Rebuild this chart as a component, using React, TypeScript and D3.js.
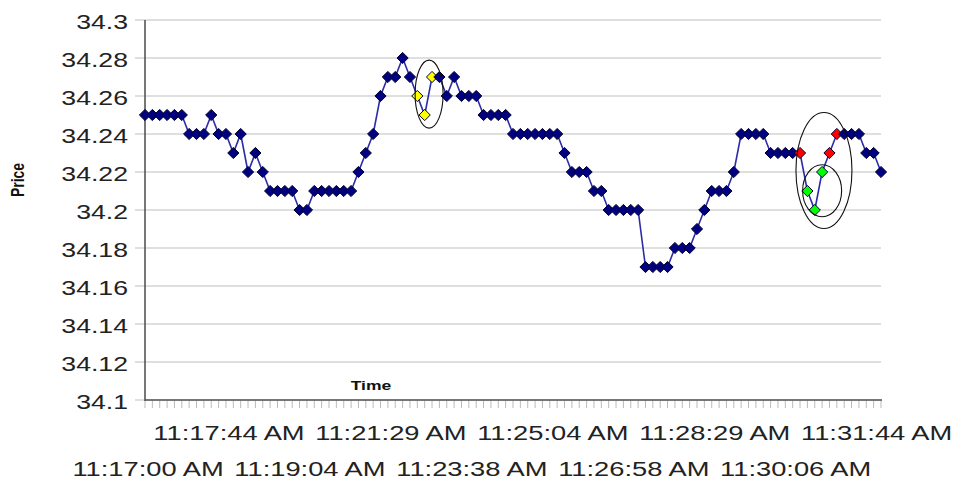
import React from 'react';
import * as d3 from 'd3';

// Price per tick (101 observations)
const prices: number[] = [
  34.25, 34.25, 34.25, 34.25, 34.25, 34.25, 34.24, 34.24, 34.24, 34.25,
  34.24, 34.24, 34.23, 34.24, 34.22, 34.23, 34.22, 34.21, 34.21, 34.21,
  34.21, 34.2, 34.2, 34.21, 34.21, 34.21, 34.21, 34.21, 34.21, 34.22,
  34.23, 34.24, 34.26, 34.27, 34.27, 34.28, 34.27, 34.26, 34.25, 34.27,
  34.27, 34.26, 34.27, 34.26, 34.26, 34.26, 34.25, 34.25, 34.25, 34.25,
  34.24, 34.24, 34.24, 34.24, 34.24, 34.24, 34.24, 34.23, 34.22, 34.22,
  34.22, 34.21, 34.21, 34.2, 34.2, 34.2, 34.2, 34.2, 34.17, 34.17,
  34.17, 34.17, 34.18, 34.18, 34.18, 34.19, 34.2, 34.21, 34.21, 34.21,
  34.22, 34.24, 34.24, 34.24, 34.24, 34.23, 34.23, 34.23, 34.23, 34.23,
  34.21, 34.2, 34.22, 34.23, 34.24, 34.24, 34.24, 34.24, 34.23, 34.23,
  34.22,
];

// Time tick labels (one every 11 observations)
const timeLabels: string[] = [
  '11:17:00 AM', '11:17:44 AM', '11:19:04 AM', '11:21:29 AM', '11:23:38 AM',
  '11:25:04 AM', '11:26:58 AM', '11:28:29 AM', '11:30:06 AM', '11:31:44 AM',
];
const labelStep = 11;

const yTickValues: number[] = [34.1, 34.12, 34.14, 34.16, 34.18, 34.2, 34.22, 34.24, 34.26, 34.28, 34.3];

// Highlighted observations
const yellowIdx: number[] = [37, 38, 39];
const redIdx: number[] = [89, 93, 94];
const greenIdx: number[] = [90, 91, 92];

// Annotation ellipses: centre in data units (index, price)
const ellipseCenters: { i: number; p: number }[] = [
  { i: 38.6, p: 34.261 },
  { i: 92.25, p: 34.2208 },
  { i: 92.0, p: 34.2101 },
];
const ellipseRadii: [number, number][] = [
  [14, 34],
  [28, 58],
  [19.5, 26],
];

const W = 954;
const H = 481;
const SX = 1.3; // horizontal stretch of text
const FONT = "'Liberation Sans', Arial, Helvetica, sans-serif";

export default function App() {
  const x = d3.scaleLinear().domain([0, prices.length - 1]).range([145, 881]);
  const y = d3.scaleLinear().domain([34.1, 34.3]).range([400, 20]);

  const line = d3
    .line<number>()
    .x((_, i) => x(i))
    .y((d) => y(d));

  const diamond = 'M0,-5.6L5.6,0L0,5.6L-5.6,0Z';
  const colorOf = (i: number) => {
    if (yellowIdx.includes(i)) return '#ffff00';
    if (redIdx.includes(i)) return '#ff0000';
    if (greenIdx.includes(i)) return '#00ff00';
    return '#000080';
  };

  const fmt = (v: number) => String(+v.toFixed(2));

  return (
    <svg
      width={W}
      height={H}
      style={{ position: 'absolute', left: 0, top: 0, background: '#fff' }}
      fontFamily={FONT}
    >
      <rect x={0} y={0} width={W} height={H} fill="#fff" />
      {/* gridlines */}
      {yTickValues.map((v) => (
        <line key={'g' + v} x1={135} x2={881} y1={y(v)} y2={y(v)} stroke="#d4d4d4" strokeWidth={1.3} />
      ))}
      {/* y tick labels */}
      {yTickValues.map((v) => (
        <text
          key={'yl' + v}
          transform={`translate(128,${y(v) + 9}) scale(${SX},1)`}
          textAnchor="end"
          fontSize={20.5}
          fill="#222"
        >
          {fmt(v)}
        </text>
      ))}
      {/* x ticks */}
      {prices.map((_, i) => (
        <line key={'xt' + i} x1={x(i)} x2={x(i)} y1={400} y2={408} stroke="#bbbbbb" strokeWidth={1} />
      ))}
      {/* axes */}
      <line x1={145} x2={145} y1={20} y2={401} stroke="#555" strokeWidth={1.6} />
      <line x1={145} x2={882} y1={400} y2={400} stroke="#555" strokeWidth={1.6} />
      {/* x labels */}
      {timeLabels.map((t, k) => (
        <text
          key={'xl' + k}
          transform={`translate(${x(k * labelStep) + 3},${k % 2 === 0 ? 476 : 440}) scale(${SX},1)`}
          textAnchor="middle"
          fontSize={21}
          fill="#222"
        >
          {t}
        </text>
      ))}
      {/* axis titles */}
      <text
        transform={`translate(371,390) scale(${SX},1)`}
        textAnchor="middle"
        fontSize={13.5}
        fontWeight="bold"
        fill="#111"
      >
        Time
      </text>
      <text
        transform={`translate(24,180) scale(${SX},1) rotate(-90)`}
        textAnchor="middle"
        fontSize={14}
        fontWeight="bold"
        fill="#111"
      >
        Price
      </text>
      {/* series line */}
      <path d={line(prices) || ''} fill="none" stroke="#2c2ca8" strokeWidth={1.6} />
      {/* markers */}
      {prices.map((p, i) => (
        <path
          key={'m' + i}
          d={diamond}
          transform={`translate(${x(i)},${y(p)})`}
          fill={colorOf(i)}
          stroke="#000030"
          strokeWidth={1}
        />
      ))}
      {/* annotation ellipses */}
      {ellipseCenters.map((c, k) => (
        <ellipse
          key={'e' + k}
          cx={x(c.i)}
          cy={y(c.p)}
          rx={ellipseRadii[k][0]}
          ry={ellipseRadii[k][1]}
          fill="none"
          stroke="#111"
          strokeWidth={1.1}
        />
      ))}
    </svg>
  );
}
